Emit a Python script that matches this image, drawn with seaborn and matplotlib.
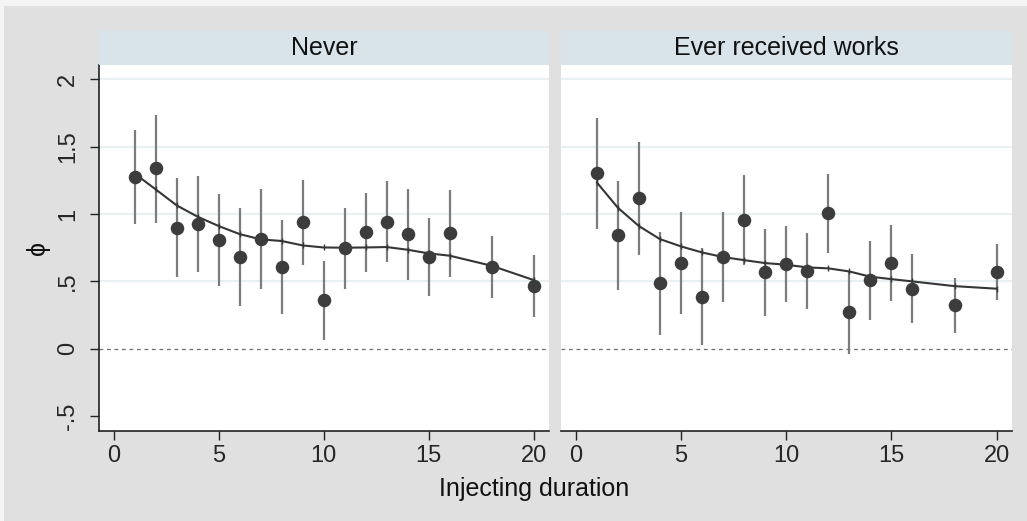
import numpy as np
import pandas as pd
import matplotlib
matplotlib.use("Agg")
import matplotlib.pyplot as plt
import seaborn as sns
from matplotlib.patches import Rectangle

# ---------------- data ----------------
panels = ["Never", "Ever received works"]

x_never = [1, 2, 3, 4, 5, 6, 7, 8, 9, 10, 11, 12, 13, 14, 15, 16, 18, 20]
phi_never = [1.277, 1.339, 0.896, 0.928, 0.807, 0.683, 0.817, 0.606, 0.938, 0.359,
             0.745, 0.866, 0.943, 0.849, 0.681, 0.856, 0.609, 0.468]
lo_never = [0.923, 0.936, 0.530, 0.569, 0.465, 0.319, 0.443, 0.257, 0.619, 0.064,
            0.446, 0.569, 0.646, 0.507, 0.389, 0.535, 0.379, 0.238]
hi_never = [1.624, 1.735, 1.265, 1.285, 1.149, 1.045, 1.188, 0.953, 1.252, 0.651,
            1.042, 1.158, 1.243, 1.183, 0.970, 1.176, 0.837, 0.696]
fit_never = [1.300, 1.183, 1.064, 0.980, 0.911, 0.851, 0.812, 0.800, 0.767, 0.752,
             0.750, 0.752, 0.755, 0.735, 0.708, 0.691, 0.616, 0.510]

x_works = [1, 2, 3, 4, 5, 6, 7, 8, 9, 10, 11, 12, 13, 14, 15, 16, 18, 20]
phi_works = [1.302, 0.842, 1.116, 0.485, 0.634, 0.386, 0.681, 0.953, 0.567, 0.629,
             0.579, 1.005, 0.272, 0.507, 0.639, 0.446, 0.322, 0.569]
lo_works = [0.891, 0.438, 0.693, 0.099, 0.255, 0.025, 0.349, 0.621, 0.245, 0.347,
            0.292, 0.713, -0.042, 0.215, 0.356, 0.188, 0.119, 0.361]
hi_works = [1.710, 1.243, 1.537, 0.869, 1.012, 0.745, 1.012, 1.287, 0.886, 0.911,
            0.861, 1.295, 0.577, 0.800, 0.921, 0.703, 0.522, 0.775]
fit_works = [1.235, 1.047, 0.911, 0.814, 0.760, 0.715, 0.681, 0.658, 0.636, 0.624,
             0.604, 0.597, 0.574, 0.535, 0.517, 0.500, 0.465, 0.446]

y_ticks = [-0.5, 0, 0.5, 1, 1.5, 2]
y_ticklabels = ["-.5", "0", ".5", "1", "1.5", "2"]
x_ticks = [0, 5, 10, 15, 20]
x_ticklabels = ["0", "5", "10", "15", "20"]

df = pd.concat([
    pd.DataFrame({"panel": panels[0], "x": x_never, "phi": phi_never,
                  "lo": lo_never, "hi": hi_never, "fit": fit_never}),
    pd.DataFrame({"panel": panels[1], "x": x_works, "phi": phi_works,
                  "lo": lo_works, "hi": hi_works, "fit": fit_works}),
])

# ---------------- style ----------------
sns.set_style("white")
plt.rcParams["font.family"] = ["Liberation Sans", "DejaVu Sans"]

BG = "#e0e0e0"
STRIP = "#d8e4ea"
GRID = "#e8f0f2"
DOT = "#3c3c3c"
BAR = "#7c7c7c"
LINE = "#363636"

W, H = 1027, 521
fig = plt.figure(figsize=(W / 100, H / 100), dpi=100, facecolor=BG)
# light outer border (top/left)
fig.patches.append(Rectangle((0, 1 - 6 / H), 1, 6 / H, transform=fig.transFigure,
                             facecolor="#f4f4f4", edgecolor="none", zorder=0))
fig.patches.append(Rectangle((0, 0), 4 / W, 1, transform=fig.transFigure,
                             facecolor="#f4f4f4", edgecolor="none", zorder=0))

def fx(px):
    return px / W

def fy(py):
    return 1 - py / H

ax_top, ax_bot = 65, 431
strip_top = 31
lefts = [(99, 549), (561, 1012)]

for i, (panel, (l, r)) in enumerate(zip(panels, lefts)):
    ax = fig.add_axes([fx(l), fy(ax_bot), fx(r - l), (ax_bot - ax_top) / H])
    ax.set_facecolor("white")
    d = df[df["panel"] == panel]

    # grid lines and zero reference line
    for yv in y_ticks:
        if yv > 0:
            ax.axhline(yv, color=GRID, lw=1.6, zorder=0)
    ax.axhline(0, color="#6e6e6e", lw=0.9, ls=(0, (3, 3)), zorder=1)

    # confidence intervals
    ax.vlines(d["x"], d["lo"], d["hi"], color=BAR, lw=1.6, zorder=2)
    # fitted line
    sns.lineplot(data=d, x="x", y="fit", ax=ax, color=LINE, lw=1.5,
                 marker="|", markersize=4, markeredgewidth=1,
                 markeredgecolor=LINE, zorder=3, legend=False)
    # point estimates
    sns.scatterplot(data=d, x="x", y="phi", ax=ax, s=95, color=DOT,
                    edgecolor=DOT, linewidth=0, zorder=4, legend=False)

    ax.set_xlim(-0.7, 20.73)
    ax.set_ylim(-0.61, 2.106)
    ax.set_xticks(x_ticks)
    ax.set_xticklabels(x_ticklabels, fontsize=17)
    ax.tick_params(axis="x", direction="out", length=6.5, width=1, color="#222222",
                   pad=3.5, bottom=True)
    ax.set_xlabel("")
    ax.set_ylabel("")
    for s in ["top", "right"]:
        ax.spines[s].set_visible(False)
    ax.spines["bottom"].set_color("#222222")
    ax.spines["bottom"].set_linewidth(1.2)
    if i == 0:
        ax.set_yticks(y_ticks)
        ax.set_yticklabels(y_ticklabels, fontsize=17, rotation=90, va="center")
        ax.tick_params(axis="y", direction="out", length=6.5, width=1,
                       color="#222222", pad=8, left=True)
        ax.spines["left"].set_color("#222222")
        ax.spines["left"].set_linewidth(1.2)
    else:
        ax.set_yticks(y_ticks)
        ax.set_yticklabels([])
        ax.tick_params(axis="y", left=False, length=0)
        ax.spines["left"].set_visible(False)

    # strip header
    sax = fig.add_axes([fx(l), fy(ax_top), fx(r - l), (ax_top - strip_top) / H])
    sax.set_facecolor(STRIP)
    sax.set_xticks([])
    sax.set_yticks([])
    for s in sax.spines.values():
        s.set_visible(False)
    sax.text(0.5, 0.5, panel, ha="center", va="center", fontsize=18,
             transform=sax.transAxes, color="#111111")

fig.text(fx(534), fy(489), "Injecting duration", ha="center", va="center",
         fontsize=18, color="#111111")
fig.text(fx(38), fy(248), "ϕ", ha="center", va="center", rotation=90,
         fontsize=18, color="#111111")

fig.savefig("out.png", dpi=100, facecolor=BG)
